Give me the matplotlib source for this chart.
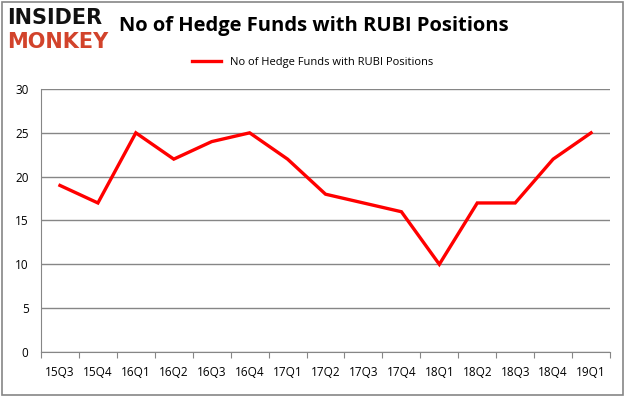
import matplotlib
matplotlib.use("Agg")
import matplotlib.pyplot as plt
import numpy as np

quarters = ["15Q3", "15Q4", "16Q1", "16Q2", "16Q3", "16Q4", "17Q1", "17Q2",
            "17Q3", "17Q4", "18Q1", "18Q2", "18Q3", "18Q4", "19Q1"]
funds = [19, 17, 25, 22, 24, 25, 22, 18, 17, 16, 10, 17, 17, 22, 25]
y_ticks = [0, 5, 10, 15, 20, 25, 30]

series_name = "No of Hedge Funds with RUBI Positions"
grid_col = "#868686"
font = ["Open Sans", "DejaVu Sans"]

fig = plt.figure(figsize=(6.26, 3.97), dpi=100)
ax = fig.add_axes([0.0655, 0.1134, 0.909, 0.6624])

x = np.arange(len(quarters))
ax.plot(x, funds, color="#ff0000", lw=2.4, solid_joinstyle="miter", label=series_name)

ax.set_xlim(-0.5, len(quarters) - 0.5)
ax.set_ylim(0, 30)
ax.set_yticks(y_ticks)
ax.set_yticklabels([str(v) for v in y_ticks], family=font, fontsize=8.5)
ax.yaxis.grid(True, color=grid_col, lw=1)
ax.set_axisbelow(True)
ax.tick_params(axis="y", length=0, pad=9)

# excel-style category axis: ticks at boundaries, labels in between
ax.set_xticks(np.arange(len(quarters) + 1) - 0.5)
ax.set_xticklabels([])
ax.set_xticks(x, minor=True)
ax.set_xticklabels(quarters, minor=True, family=font, fontsize=8.5)
ax.tick_params(axis="x", which="major", length=4, color=grid_col)
ax.tick_params(axis="x", which="minor", length=0, pad=10)

for side in ["top", "right"]:
    ax.spines[side].set_visible(False)
for side in ["left", "bottom"]:
    ax.spines[side].set_color(grid_col)

fig.text(0.19, 0.935, "No of Hedge Funds with RUBI Positions", family=font,
         fontsize=14.5, fontweight="bold", va="center", ha="left")
ax.legend(loc="center", bbox_to_anchor=(0.5, 0.842), bbox_transform=fig.transFigure,
          frameon=False, prop={"family": font, "size": 8}, handlelength=2.6)

# logo
fig.text(0.012, 0.955, "INSIDER", family="DejaVu Sans", fontsize=15, fontweight="bold",
         color="#111111", va="center")
fig.text(0.012, 0.895, "MONKEY", family="DejaVu Sans", fontsize=15, fontweight="bold",
         color="#d2432b", va="center")

# outer border
fig.patches.append(plt.Rectangle((0.003, 0.005), 0.993, 0.99, transform=fig.transFigure,
                                 fill=False, edgecolor=grid_col, lw=1.2))

fig.savefig("out.png", dpi=100)
